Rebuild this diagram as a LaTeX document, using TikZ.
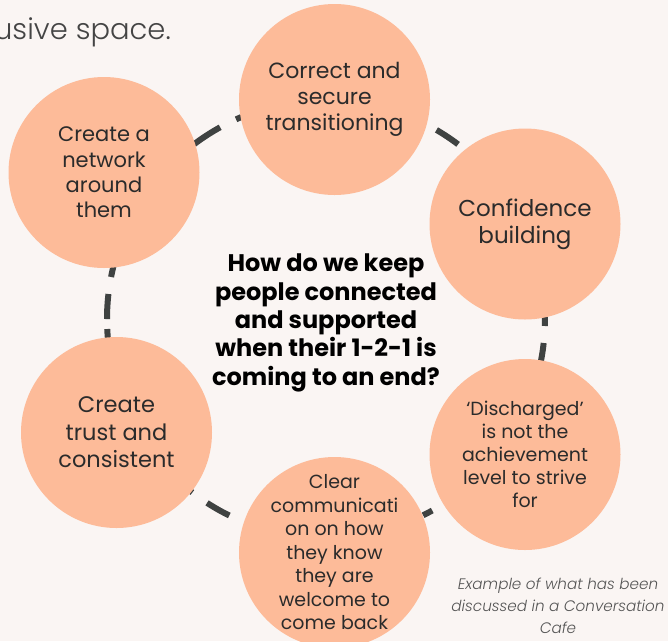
\documentclass[tikz,border=0pt]{standalone}
\usepackage{fontspec}
\setmainfont{Poppins}
\newfontfamily\lightfont{Poppins}[UprightFont={* Light},ItalicFont={* Light Italic}]
\definecolor{paper}{HTML}{FAF5F3}
\definecolor{peach}{HTML}{FDBB99}
\definecolor{dashgray}{HTML}{3F4241}
\definecolor{inkdark}{HTML}{2B2B2B}
\definecolor{inkgray}{HTML}{444444}
\definecolor{capgray}{HTML}{555555}
\tikzset{
  bubble/.style={circle, fill=peach, minimum size=191pt, inner sep=0pt},
  bubbletext/.style={align=center, text=inkdark, inner sep=0pt},
  ringdash/.style={draw=dashgray, line width=6pt},
}
\begin{document}
\begin{tikzpicture}[x=1pt,y=-1pt]
  % page and background
  \useasboundingbox (0,0) rectangle (668,641);
  \fill[paper] (0,0) rectangle (668,641);

  % heading fragment at the top left
  \node[anchor=base east, inner sep=0pt, text=inkgray, font=\lightfont\fontsize{29}{32}\selectfont]
    (heading) at (171,39.5) {usive space.};

  % dashed ring behind the bubbles
  \coordinate (ring) at (326,319);
  \foreach \a/\b in {-4.7/1.83, 6.29/12.8, 60.97/63.67, 116.2/122.9, 127.6/134,
                     170/177.38, 180/186.56, 191.06/197.6, 228/241.1,
                     245.75/253, 300.3/307.1}
    \draw[ringdash] (ring) ++(\a:219) arc[start angle=\a, end angle=\b, radius=219];

  % bubbles
  \node[bubble] (top)   at (334.5,99.5)  {};
  \node[bubble] (conf)  at (525,224)     {};
  \node[bubble] (disch) at (525,454.5)   {};
  \node[bubble] (clear) at (334.5,552.5) {};
  \node[bubble] (trust) at (116.5,432.5) {};
  \node[bubble] (net)   at (104,172.5)   {};

  % bubble texts
  \node[bubbletext, font=\fontsize{22}{26}\selectfont] (toptext) at (top)
    {Correct and\\secure\\transitioning};
  \node[bubbletext, font=\fontsize{23}{27}\selectfont] (conftext) at (conf)
    {Confidence\\building};
  \node[bubbletext, font=\fontsize{19}{23}\selectfont] (dischtext) at (disch)
    {‘Discharged’\\is not the\\achievement\\level to strive\\for};
  \node[bubbletext, font=\fontsize{19}{23.5}\selectfont] (cleartext) at (clear)
    {Clear\\communicati\\on on how\\they know\\they are\\welcome to\\come back};
  \node[bubbletext, font=\fontsize{22.5}{27.5}\selectfont] (trusttext) at (trust)
    {Create\\trust and\\consistent};
  \node[bubbletext, font=\fontsize{21}{25.3}\selectfont] (nettext) at (net)
    {Create a\\network\\around\\them};

  % central question
  \node[align=center, inner sep=0pt, text=black, font=\bfseries\fontsize{24}{28.3}\selectfont]
    (question) at (326,323)
    {How do we keep\\people connected\\and supported\\when their 1-2-1 is\\coming to an end?};

  % caption
  \node[align=center, inner sep=0pt, text=capgray, font=\lightfont\itshape\fontsize{15.2}{22}\selectfont]
    (caption) at (558,606)
    {Example of what has been\\discussed in a Conversation\\Cafe};
\end{tikzpicture}
\end{document}
